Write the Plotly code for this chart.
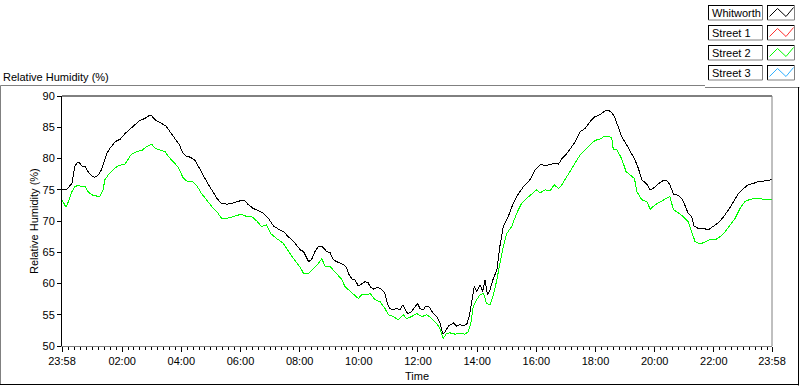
import pandas as pd
import plotly.graph_objects as go

# ---------------- data ----------------
# minutes after the start (23:58) and relative humidity (%)
WHIT_MIN = [0, 10, 20, 26, 31, 35, 40, 47, 53, 60, 67, 74, 80, 85, 91, 97, 108, 118, 128, 138, 148, 158, 168, 177, 182, 189, 195, 202, 211, 219, 229, 238, 245, 252, 260, 270, 279, 288, 297, 306, 314, 324, 334, 344, 354, 364, 371, 378, 388, 398, 408, 419, 429, 439, 449, 459, 471, 483, 490, 500, 506, 513, 520, 527, 531, 537, 544, 550, 557, 564, 571, 577, 581, 588, 594, 601, 608, 615, 621, 625, 631, 640, 648, 655, 660, 665, 672, 679, 686, 691, 698, 702, 709, 716, 721, 726, 733, 738, 745, 752, 760, 767, 772, 777, 784, 794, 800, 807, 814, 821, 826, 831, 836, 841, 848, 853, 858, 863, 868, 874, 882, 888, 895, 905, 915, 926, 936, 949, 960, 970, 983, 997, 1007, 1014, 1024, 1034, 1041, 1051, 1061, 1071, 1081, 1091, 1101, 1108, 1115, 1122, 1128, 1135, 1145, 1155, 1162, 1169, 1176, 1186, 1193, 1199, 1210, 1220, 1226, 1233, 1240, 1250, 1257, 1264, 1270, 1277, 1282, 1291, 1301, 1311, 1321, 1331, 1341, 1352, 1362, 1372, 1382, 1392, 1402, 1412, 1423, 1440]
WHIT_VAL = [75.1, 75.1, 76.0, 78.7, 79.4, 79.4, 78.8, 78.7, 77.9, 77.2, 77.0, 77.4, 78.2, 79.5, 80.8, 81.6, 82.7, 83.1, 84.0, 84.7, 85.4, 86.1, 86.4, 86.9, 86.8, 86.2, 85.9, 85.6, 85.2, 84.3, 83.2, 82.2, 80.9, 80.4, 80.2, 79.7, 78.4, 77.0, 75.8, 74.7, 73.6, 72.8, 72.7, 72.8, 73.1, 73.3, 73.2, 72.6, 72.0, 71.6, 71.3, 70.4, 69.2, 68.7, 68.3, 67.5, 66.6, 65.4, 65.1, 63.5, 63.8, 65.1, 65.9, 66.0, 65.6, 65.1, 64.9, 63.8, 63.5, 63.3, 63.0, 62.6, 61.6, 60.7, 60.6, 59.6, 59.9, 60.3, 60.1, 59.5, 59.1, 59.4, 59.1, 58.4, 56.7, 56.0, 55.8, 56.0, 55.8, 56.6, 55.5, 55.2, 55.5, 56.3, 56.8, 56.0, 55.8, 56.4, 56.2, 55.3, 54.7, 53.6, 51.9, 52.3, 53.2, 53.7, 53.2, 53.4, 53.2, 53.5, 54.7, 57.1, 59.5, 58.7, 59.8, 58.7, 60.6, 58.2, 59.0, 60.6, 62.2, 65.9, 69.1, 70.7, 72.8, 74.4, 75.5, 76.6, 78.2, 79.0, 78.9, 79.2, 79.1, 80.0, 80.8, 81.9, 82.7, 84.3, 84.8, 85.9, 86.7, 87.0, 87.6, 87.7, 87.4, 86.4, 85.1, 83.5, 82.2, 80.8, 79.8, 78.4, 76.6, 75.9, 75.0, 75.2, 76.0, 76.5, 76.5, 75.8, 74.3, 74.1, 73.6, 72.4, 71.2, 70.7, 69.2, 68.8, 68.8, 68.6, 69.2, 69.7, 70.6, 71.8, 73.1, 74.4, 75.2, 75.8, 76.0, 76.3, 76.4, 76.6]

ST2_MIN = [0, 8, 13, 20, 26, 33, 40, 47, 53, 60, 70, 77, 83, 87, 94, 101, 111, 121, 128, 135, 141, 151, 162, 172, 182, 189, 199, 209, 216, 226, 236, 245, 253, 263, 273, 283, 293, 304, 314, 324, 334, 344, 354, 364, 375, 385, 395, 405, 415, 423, 435, 448, 465, 483, 490, 500, 510, 520, 527, 533, 544, 550, 558, 567, 574, 581, 591, 601, 608, 618, 625, 635, 645, 655, 662, 672, 682, 692, 699, 709, 719, 730, 740, 750, 760, 767, 773, 780, 787, 797, 807, 817, 824, 829, 834, 841, 848, 855, 861, 868, 875, 882, 888, 895, 902, 912, 922, 932, 942, 953, 963, 970, 980, 990, 998, 1007, 1014, 1020, 1030, 1041, 1051, 1061, 1071, 1081, 1091, 1101, 1108, 1115, 1118, 1125, 1135, 1144, 1152, 1161, 1166, 1176, 1186, 1193, 1203, 1213, 1223, 1233, 1240, 1250, 1260, 1270, 1277, 1284, 1294, 1304, 1314, 1325, 1335, 1345, 1355, 1365, 1375, 1385, 1396, 1409, 1423, 1440]
ST2_VAL = [73.4, 72.2, 73.1, 74.7, 75.5, 75.7, 75.5, 75.5, 74.7, 74.2, 74.0, 74.0, 74.9, 76.6, 77.4, 77.9, 78.7, 79.0, 79.1, 80.0, 80.7, 81.1, 81.3, 81.9, 82.3, 81.6, 81.3, 81.1, 80.3, 79.5, 78.6, 77.0, 76.4, 76.4, 75.7, 74.4, 73.4, 72.3, 71.5, 70.4, 70.4, 70.6, 70.8, 71.1, 70.7, 70.7, 70.0, 69.1, 69.4, 68.0, 67.2, 66.5, 64.5, 62.6, 61.6, 61.6, 62.4, 63.2, 64.0, 62.8, 62.7, 62.2, 61.4, 60.7, 59.5, 59.0, 58.4, 57.6, 58.2, 58.2, 58.4, 57.4, 57.1, 56.0, 55.0, 54.7, 54.2, 55.0, 54.4, 54.7, 55.2, 54.7, 55.0, 54.4, 53.6, 52.7, 51.2, 52.0, 52.1, 51.9, 52.0, 51.9, 52.3, 53.6, 56.3, 57.4, 58.2, 58.4, 56.8, 56.6, 58.2, 60.6, 63.2, 65.9, 68.0, 69.1, 71.2, 72.8, 73.6, 74.4, 75.0, 74.5, 75.0, 74.8, 75.8, 75.2, 75.8, 76.6, 77.9, 79.5, 80.6, 81.4, 82.2, 82.9, 83.1, 83.6, 83.6, 83.3, 81.5, 81.4, 80.0, 77.9, 77.4, 76.8, 74.7, 73.4, 73.1, 71.9, 72.6, 73.1, 73.5, 73.9, 71.8, 71.3, 70.7, 69.9, 68.3, 66.7, 66.3, 66.7, 67.0, 67.0, 67.5, 68.3, 69.4, 70.4, 72.0, 73.1, 73.5, 73.6, 73.5, 73.4]

START = "2024-01-01 23:58"
TICK_LABELS = ["23:58", "02:00", "04:00", "06:00", "08:00", "10:00", "12:00",
               "14:00", "16:00", "18:00", "20:00", "22:00", "23:58"]
Y_TICKS = [50, 55, 60, 65, 70, 75, 80, 85, 90]
LEGEND_NAMES = ["Whitworth", "Street 1", "Street 2", "Street 3"]
LEGEND_COLORS = ["#000000", "#ff3030", "#00ff00", "#30b0ff"]

# ---------------- build ----------------
t0 = pd.Timestamp(START)
t1 = t0 + pd.Timedelta(days=1)
x_w = [t0 + pd.Timedelta(minutes=m) for m in WHIT_MIN]
x_s = [t0 + pd.Timedelta(minutes=m) for m in ST2_MIN]

tickvals = []
for i, lab in enumerate(TICK_LABELS):
    if i == 0:
        tickvals.append(t0)
    else:
        tickvals.append(pd.Timestamp(t1.strftime("%Y-%m-%d") + " " + lab))

FONT = "Liberation Sans, Arial, sans-serif"
W, H = 800, 386
L, R, T, B = 62, 772, 96, 346


def px(x):
    return (x - L) / (R - L)


def py(y):
    return (B - y) / (B - T)


fig = go.Figure()
fig.add_trace(go.Scatter(x=x_w, y=WHIT_VAL, mode="lines", name="Whitworth",
                         line=dict(color="#000000", width=1), showlegend=False))
fig.add_trace(go.Scatter(x=x_s, y=ST2_VAL, mode="lines", name="Street 2",
                         line=dict(color="#00ff00", width=1), showlegend=False))

shapes = []
ann = []
# plot frame: top black, right gray
shapes.append(dict(type="line", xref="paper", yref="paper", x0=0, x1=1, y0=1, y1=1,
                   line=dict(color="#000000", width=1)))
shapes.append(dict(type="line", xref="paper", yref="paper", x0=1, x1=1, y0=0, y1=1,
                   line=dict(color="#808080", width=1)))
# outer frame
shapes.append(dict(type="line", xref="paper", yref="paper", x0=px(0.5), x1=px(705), y0=py(85.5), y1=py(85.5),
                   line=dict(color="#808080", width=1)))
shapes.append(dict(type="line", xref="paper", yref="paper", x0=px(0.5), x1=px(0.5), y0=py(85.5), y1=py(385),
                   line=dict(color="#808080", width=1)))
shapes.append(dict(type="line", xref="paper", yref="paper", x0=px(705), x1=px(799.5), y0=py(87.5), y1=py(87.5),
                   line=dict(color="#808080", width=1)))
shapes.append(dict(type="line", xref="paper", yref="paper", x0=px(798.5), x1=px(798.5), y0=py(87), y1=py(385.5),
                   line=dict(color="#000000", width=1)))
shapes.append(dict(type="line", xref="paper", yref="paper", x0=px(0), x1=px(799), y0=py(384.5), y1=py(384.5),
                   line=dict(color="#000000", width=1)))

# legend boxes
for i, (name, col) in enumerate(zip(LEGEND_NAMES, LEGEND_COLORS)):
    top = 5 + 20 * i
    bot = top + 15
    for (a, b) in [(708.5, 762.5), (767.5, 794.5)]:
        shapes.append(dict(type="line", xref="paper", yref="paper", x0=px(a), x1=px(b), y0=py(top + 0.5), y1=py(top + 0.5),
                           line=dict(color="#000000", width=1)))
        shapes.append(dict(type="line", xref="paper", yref="paper", x0=px(a), x1=px(a), y0=py(top), y1=py(bot),
                           line=dict(color="#000000", width=1)))
        shapes.append(dict(type="line", xref="paper", yref="paper", x0=px(a), x1=px(b), y0=py(bot), y1=py(bot),
                           line=dict(color="#808080", width=1)))
        shapes.append(dict(type="line", xref="paper", yref="paper", x0=px(b), x1=px(b), y0=py(top), y1=py(bot),
                           line=dict(color="#808080", width=1)))
    pts = [(769.5, bot - 3.5), (777.5, top + 3.5), (786, bot - 3.5), (793.5, top + 2.5)]
    path = "M " + " L ".join(f"{px(a)},{py(b)}" for a, b in pts)
    shapes.append(dict(type="path", xref="paper", yref="paper", path=path,
                       line=dict(color=col, width=1)))
    ann.append(dict(text=name, xref="paper", yref="paper", x=px(710), y=py((top + bot) / 2 + 0.5),
                    xanchor="left", yanchor="middle", showarrow=False,
                    font=dict(family=FONT, size=11, color="#000000")))

ann.append(dict(text="Relative Humidity (%)", xref="paper", yref="paper", x=px(1), y=py(77),
                xanchor="left", yanchor="middle", showarrow=False,
                font=dict(family=FONT, size=11, color="#000000")))
ann.append(dict(text="Relative Humidity (%)", xref="paper", yref="paper", x=px(34), y=py(221),
                xanchor="center", yanchor="middle", showarrow=False, textangle=-90,
                font=dict(family=FONT, size=11, color="#000000")))
ann.append(dict(text="Time", xref="paper", yref="paper", x=px(417), y=py(376),
                xanchor="center", yanchor="middle", showarrow=False,
                font=dict(family=FONT, size=11, color="#000000")))

fig.update_layout(
    width=W, height=H,
    margin=dict(l=L, r=W - R, t=T, b=H - B, pad=0),
    paper_bgcolor="#ffffff", plot_bgcolor="#ffffff",
    showlegend=False,
    shapes=shapes, annotations=ann,
    font=dict(family=FONT, size=11, color="#000000"),
    xaxis=dict(type="date", range=[t0, t1], tickmode="array", tickvals=tickvals, ticktext=TICK_LABELS,
               showgrid=False, zeroline=False, showline=True, linecolor="#808080", linewidth=1,
               ticks="outside", ticklen=5, tickcolor="#000000", tickwidth=1,
               tickfont=dict(family=FONT, size=11, color="#000000"),
               minor=dict(dtick=12 * 60 * 1000, tick0="2024-01-02 00:00", ticks="outside", ticklen=3,
                          tickcolor="#000000", tickwidth=1, showgrid=False),
               fixedrange=True),
    yaxis=dict(range=[50, 90], tickmode="array", tickvals=Y_TICKS,
               showgrid=False, zeroline=False, showline=True, linecolor="#000000", linewidth=1,
               ticks="outside", ticklen=4, tickcolor="#000000", tickwidth=1,
               tickfont=dict(family=FONT, size=11, color="#000000"), fixedrange=True),
)

fig.write_html(
    "out.html", config={"displayModeBar": False},
    post_script=(
        "document.body.style.margin='0px';document.body.style.overflow='hidden';"
        "document.querySelectorAll('.scatterlayer .js-line').forEach(function(p){p.style.shapeRendering='crispEdges';});"
    ),
)
